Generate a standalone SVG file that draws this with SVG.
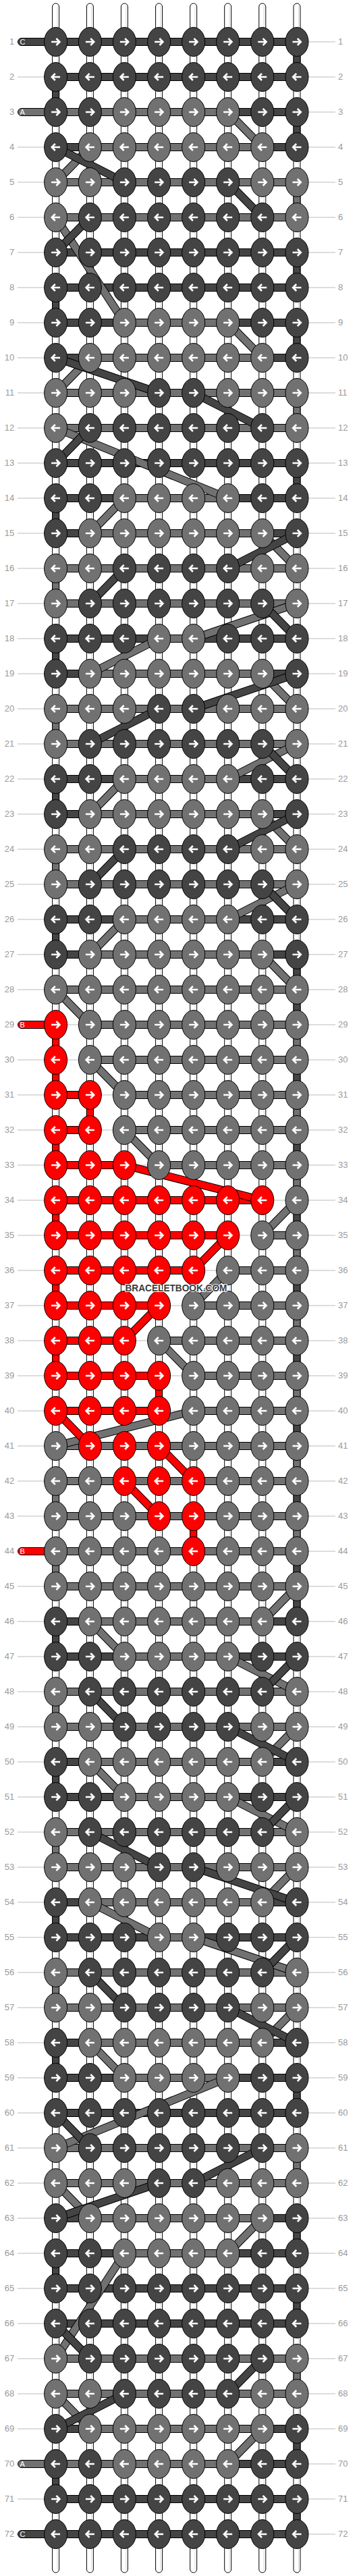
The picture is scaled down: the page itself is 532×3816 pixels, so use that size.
<svg xmlns="http://www.w3.org/2000/svg" width="532" height="3816" viewBox="0 0 532 3816">
<style>
.gl{stroke:#bbb;stroke-width:1;fill:none}
.n{font-family:"Liberation Sans",Arial,sans-serif;font-size:13px;fill:#9a9a9a}
.nl{text-anchor:end}
.st{fill:#fff;stroke:#000;stroke-width:1}
.sl{stroke:#d6d6d6;stroke-width:1}
.s rect{stroke:#000;stroke-width:1}
.D{fill:#444}
.G{fill:#717171}
.R{fill:#f00}
.kD{fill:#444;stroke:#000;stroke-width:1}
.kG{fill:#717171;stroke:#000;stroke-width:1}
.kR{fill:#f00;stroke:#000;stroke-width:1}
.ar{fill:none;stroke:#fff;stroke-width:2.6}
.lb{font-family:"Liberation Sans",Arial,sans-serif;font-size:11px;fill:#fff}
.dg{fill:none;stroke-linecap:butt}
.wm{font-family:"Liberation Sans",Arial,sans-serif;font-weight:bold;font-size:14.5px;fill:#3c3c3c;stroke:#fff;stroke-width:2;paint-order:stroke;text-anchor:middle}
</style>
<defs>
<path id="aR" class="ar" d="M-6.5,0H5M0.8,-5L5.8,0L0.8,5"/>
<path id="aL" class="ar" d="M6.5,0H-5M-0.8,-5L-5.8,0L-0.8,5"/>
<g id="Dr"><ellipse rx="17" ry="21.5" class="kD"/><use href="#aR"/></g>
<g id="Gr"><ellipse rx="17" ry="21.5" class="kG"/><use href="#aR"/></g>
<g id="Rr"><ellipse rx="17" ry="21.5" class="kR"/><use href="#aR"/></g>
<g id="Dl"><ellipse rx="17" ry="21.5" class="kD"/><use href="#aL"/></g>
<g id="Gl"><ellipse rx="17" ry="21.5" class="kG"/><use href="#aL"/></g>
<g id="Rl"><ellipse rx="17" ry="21.5" class="kR"/><use href="#aL"/></g>
<path id="dgG" d="M337.7,166L388.8,218M133.4,218L82.6,270M82.6,322L184.4,478M337.7,478L388.8,530M133.4,530L82.6,582M82.6,634L337.7,738M184.4,738L133.4,790M388.8,790L440,842M440,894L286.7,946M235.6,946L133.4,998M388.8,998L440,1050M440,1102L337.7,1154M184.4,1154L133.4,1206M388.8,1206L440,1258M440,1310L337.7,1362M184.4,1362L133.4,1414M388.8,1414L440,1466M82.6,1466L133.4,1518M133.4,1570L184.4,1622M184.4,1674L235.6,1726M440,1778L388.8,1830M337.7,1882L286.7,1934M235.6,1986L286.7,2038M286.7,2090L82.6,2142M440,2350L388.8,2402M133.4,2402L184.4,2454M337.7,2454L440,2506M440,2558L388.8,2610M133.4,2610L184.4,2662M337.7,2662L440,2714M440,2766L388.8,2818M133.4,2818L235.6,2870M286.7,2870L440,2922M440,2974L388.8,3026M133.4,3026L184.4,3078M337.7,3078L82.6,3182M82.6,3234L133.4,3286M388.8,3286L337.7,3338M184.4,3338L82.6,3494M82.6,3546L133.4,3598M388.8,3598L337.7,3650"/>
<path id="dgD" d="M82.6,218L184.4,270M337.7,270L388.8,322M133.4,322L82.6,374M82.6,530L235.6,582M286.7,582L388.8,634M133.4,634L82.6,686M440,790L337.7,842M184.4,842L133.4,894M388.8,894L440,946M440,998L286.7,1050M235.6,1050L133.4,1102M388.8,1102L440,1154M440,1206L337.7,1258M184.4,1258L133.4,1310M388.8,1310L440,1362M440,2454L388.8,2506M133.4,2506L184.4,2558M337.7,2558L440,2610M440,2662L388.8,2714M133.4,2714L235.6,2766M286.7,2766L440,2818M440,2870L388.8,2922M133.4,2922L184.4,2974M337.7,2974L440,3026M82.6,3130L133.4,3182M388.8,3182L286.7,3234M235.6,3234L82.6,3286M82.6,3442L133.4,3494M388.8,3494L337.7,3546M184.4,3546L82.6,3598"/>
<path id="dgR" d="M184.4,1726L388.8,1778M337.7,1830L286.7,1882M235.6,1934L184.4,1986M82.6,2090L133.4,2142M235.6,2142L286.7,2194M184.4,2194L235.6,2246"/>
</defs>
<rect width="532" height="3816" fill="#fff"/>
<path class="gl" d="M26,62H497M26,114H497M26,166H497M26,218H497M26,270H497M26,322H497M26,374H497M26,426H497M26,478H497M26,530H497M26,582H497M26,634H497M26,686H497M26,738H497M26,790H497M26,842H497M26,894H497M26,946H497M26,998H497M26,1050H497M26,1102H497M26,1154H497M26,1206H497M26,1258H497M26,1310H497M26,1362H497M26,1414H497M26,1466H497M26,1518H497M26,1570H497M26,1622H497M26,1674H497M26,1726H497M26,1778H497M26,1830H497M26,1882H497M26,1934H497M26,1986H497M26,2038H497M26,2090H497M26,2142H497M26,2194H497M26,2246H497M26,2298H497M26,2350H497M26,2402H497M26,2454H497M26,2506H497M26,2558H497M26,2610H497M26,2662H497M26,2714H497M26,2766H497M26,2818H497M26,2870H497M26,2922H497M26,2974H497M26,3026H497M26,3078H497M26,3130H497M26,3182H497M26,3234H497M26,3286H497M26,3338H497M26,3390H497M26,3442H497M26,3494H497M26,3546H497M26,3598H497M26,3650H497M26,3702H497M26,3754H497"/>
<g class="n nl">
<text x="21.3" y="66">1</text><text x="21.3" y="118">2</text><text x="21.3" y="170">3</text><text x="21.3" y="222">4</text><text x="21.3" y="274">5</text><text x="21.3" y="326">6</text><text x="21.3" y="378">7</text><text x="21.3" y="430">8</text><text x="21.3" y="482">9</text><text x="21.3" y="534">10</text><text x="21.3" y="586">11</text><text x="21.3" y="638">12</text><text x="21.3" y="690">13</text><text x="21.3" y="742">14</text><text x="21.3" y="794">15</text><text x="21.3" y="846">16</text><text x="21.3" y="898">17</text><text x="21.3" y="950">18</text><text x="21.3" y="1002">19</text><text x="21.3" y="1054">20</text><text x="21.3" y="1106">21</text><text x="21.3" y="1158">22</text><text x="21.3" y="1210">23</text><text x="21.3" y="1262">24</text><text x="21.3" y="1314">25</text><text x="21.3" y="1366">26</text><text x="21.3" y="1418">27</text><text x="21.3" y="1470">28</text><text x="21.3" y="1522">29</text><text x="21.3" y="1574">30</text><text x="21.3" y="1626">31</text><text x="21.3" y="1678">32</text><text x="21.3" y="1730">33</text><text x="21.3" y="1782">34</text><text x="21.3" y="1834">35</text><text x="21.3" y="1886">36</text><text x="21.3" y="1938">37</text><text x="21.3" y="1990">38</text><text x="21.3" y="2042">39</text><text x="21.3" y="2094">40</text><text x="21.3" y="2146">41</text><text x="21.3" y="2198">42</text><text x="21.3" y="2250">43</text><text x="21.3" y="2302">44</text><text x="21.3" y="2354">45</text><text x="21.3" y="2406">46</text><text x="21.3" y="2458">47</text><text x="21.3" y="2510">48</text><text x="21.3" y="2562">49</text><text x="21.3" y="2614">50</text><text x="21.3" y="2666">51</text><text x="21.3" y="2718">52</text><text x="21.3" y="2770">53</text><text x="21.3" y="2822">54</text><text x="21.3" y="2874">55</text><text x="21.3" y="2926">56</text><text x="21.3" y="2978">57</text><text x="21.3" y="3030">58</text><text x="21.3" y="3082">59</text><text x="21.3" y="3134">60</text><text x="21.3" y="3186">61</text><text x="21.3" y="3238">62</text><text x="21.3" y="3290">63</text><text x="21.3" y="3342">64</text><text x="21.3" y="3394">65</text><text x="21.3" y="3446">66</text><text x="21.3" y="3498">67</text><text x="21.3" y="3550">68</text><text x="21.3" y="3602">69</text><text x="21.3" y="3654">70</text><text x="21.3" y="3706">71</text><text x="21.3" y="3758">72</text>
</g>
<g class="n">
<text x="501" y="66">1</text><text x="501" y="118">2</text><text x="501" y="170">3</text><text x="501" y="222">4</text><text x="501" y="274">5</text><text x="501" y="326">6</text><text x="501" y="378">7</text><text x="501" y="430">8</text><text x="501" y="482">9</text><text x="501" y="534">10</text><text x="501" y="586">11</text><text x="501" y="638">12</text><text x="501" y="690">13</text><text x="501" y="742">14</text><text x="501" y="794">15</text><text x="501" y="846">16</text><text x="501" y="898">17</text><text x="501" y="950">18</text><text x="501" y="1002">19</text><text x="501" y="1054">20</text><text x="501" y="1106">21</text><text x="501" y="1158">22</text><text x="501" y="1210">23</text><text x="501" y="1262">24</text><text x="501" y="1314">25</text><text x="501" y="1366">26</text><text x="501" y="1418">27</text><text x="501" y="1470">28</text><text x="501" y="1522">29</text><text x="501" y="1574">30</text><text x="501" y="1626">31</text><text x="501" y="1678">32</text><text x="501" y="1730">33</text><text x="501" y="1782">34</text><text x="501" y="1834">35</text><text x="501" y="1886">36</text><text x="501" y="1938">37</text><text x="501" y="1990">38</text><text x="501" y="2042">39</text><text x="501" y="2094">40</text><text x="501" y="2146">41</text><text x="501" y="2198">42</text><text x="501" y="2250">43</text><text x="501" y="2302">44</text><text x="501" y="2354">45</text><text x="501" y="2406">46</text><text x="501" y="2458">47</text><text x="501" y="2510">48</text><text x="501" y="2562">49</text><text x="501" y="2614">50</text><text x="501" y="2666">51</text><text x="501" y="2718">52</text><text x="501" y="2770">53</text><text x="501" y="2822">54</text><text x="501" y="2874">55</text><text x="501" y="2926">56</text><text x="501" y="2978">57</text><text x="501" y="3030">58</text><text x="501" y="3082">59</text><text x="501" y="3134">60</text><text x="501" y="3186">61</text><text x="501" y="3238">62</text><text x="501" y="3290">63</text><text x="501" y="3342">64</text><text x="501" y="3394">65</text><text x="501" y="3446">66</text><text x="501" y="3498">67</text><text x="501" y="3550">68</text><text x="501" y="3602">69</text><text x="501" y="3654">70</text><text x="501" y="3706">71</text><text x="501" y="3758">72</text>
</g>
<g id="strings">
<rect class="st" x="77.6" y="5" width="10" height="3806" rx="5"/>
<rect class="st" x="128.4" y="5" width="10" height="3806" rx="5"/>
<rect class="st" x="179.4" y="5" width="10" height="3806" rx="5"/>
<rect class="st" x="230.6" y="5" width="10" height="3806" rx="5"/>
<rect class="st" x="281.7" y="5" width="10" height="3806" rx="5"/>
<rect class="st" x="332.7" y="5" width="10" height="3806" rx="5"/>
<rect class="st" x="383.8" y="5" width="10" height="3806" rx="5"/>
<rect class="st" x="435" y="5" width="10" height="3806" rx="5"/>
<path class="sl" d="M85,9V3807M135.8,9V3807M186.8,9V3807M238,9V3807M289.1,9V3807M340.1,9V3807M391.2,9V3807M442.4,9V3807"/>
</g>
<g id="connectors">
<g class="s" id="segments">
<rect class="D" x="82.6" y="56.5" width="357.4" height="11"/>
<rect class="D" x="82.6" y="108.5" width="357.4" height="11"/>
<rect class="G" x="82.6" y="160.5" width="255.1" height="11"/><rect class="D" x="337.7" y="160.5" width="102.3" height="11"/>
<rect class="D" x="82.6" y="212.5" width="50.8" height="11"/><rect class="G" x="133.4" y="212.5" width="255.4" height="11"/><rect class="D" x="388.8" y="212.5" width="51.2" height="11"/>
<rect class="G" x="82.6" y="264.5" width="357.4" height="11"/>
<rect class="G" x="82.6" y="316.5" width="357.4" height="11"/>
<rect class="D" x="82.6" y="368.5" width="357.4" height="11"/>
<rect class="D" x="82.6" y="420.5" width="357.4" height="11"/>
<rect class="D" x="82.6" y="472.5" width="101.8" height="11"/><rect class="G" x="184.4" y="472.5" width="153.3" height="11"/><rect class="D" x="337.7" y="472.5" width="102.3" height="11"/>
<rect class="D" x="82.6" y="524.5" width="50.8" height="11"/><rect class="G" x="133.4" y="524.5" width="255.4" height="11"/><rect class="D" x="388.8" y="524.5" width="51.2" height="11"/>
<rect class="G" x="82.6" y="576.5" width="357.4" height="11"/>
<rect class="G" x="82.6" y="628.5" width="357.4" height="11"/>
<rect class="D" x="82.6" y="680.5" width="357.4" height="11"/>
<rect class="D" x="82.6" y="732.5" width="101.8" height="11"/><rect class="G" x="184.4" y="732.5" width="153.3" height="11"/><rect class="D" x="337.7" y="732.5" width="102.3" height="11"/>
<rect class="D" x="82.6" y="784.5" width="50.8" height="11"/><rect class="G" x="133.4" y="784.5" width="255.4" height="11"/><rect class="D" x="388.8" y="784.5" width="51.2" height="11"/>
<rect class="G" x="82.6" y="836.5" width="357.4" height="11"/>
<rect class="G" x="82.6" y="888.5" width="357.4" height="11"/>
<rect class="D" x="82.6" y="940.5" width="153" height="11"/><rect class="G" x="235.6" y="940.5" width="51.1" height="11"/><rect class="D" x="286.7" y="940.5" width="153.3" height="11"/>
<rect class="D" x="82.6" y="992.5" width="50.8" height="11"/><rect class="G" x="133.4" y="992.5" width="255.4" height="11"/><rect class="D" x="388.8" y="992.5" width="51.2" height="11"/>
<rect class="G" x="82.6" y="1044.5" width="357.4" height="11"/>
<rect class="G" x="82.6" y="1096.5" width="357.4" height="11"/>
<rect class="D" x="82.6" y="1148.5" width="101.8" height="11"/><rect class="G" x="184.4" y="1148.5" width="153.3" height="11"/><rect class="D" x="337.7" y="1148.5" width="102.3" height="11"/>
<rect class="D" x="82.6" y="1200.5" width="50.8" height="11"/><rect class="G" x="133.4" y="1200.5" width="255.4" height="11"/><rect class="D" x="388.8" y="1200.5" width="51.2" height="11"/>
<rect class="G" x="82.6" y="1252.5" width="357.4" height="11"/>
<rect class="G" x="82.6" y="1304.5" width="357.4" height="11"/>
<rect class="D" x="82.6" y="1356.5" width="101.8" height="11"/><rect class="G" x="184.4" y="1356.5" width="153.3" height="11"/><rect class="D" x="337.7" y="1356.5" width="102.3" height="11"/>
<rect class="D" x="82.6" y="1408.5" width="50.8" height="11"/><rect class="G" x="133.4" y="1408.5" width="255.4" height="11"/><rect class="D" x="388.8" y="1408.5" width="51.2" height="11"/>
<rect class="G" x="82.6" y="1460.5" width="357.4" height="11"/>
<rect class="G" x="133.4" y="1512.5" width="306.6" height="11"/>
<rect class="G" x="133.4" y="1564.5" width="306.6" height="11"/>
<rect class="R" x="82.6" y="1616.5" width="50.8" height="11"/><rect class="G" x="184.4" y="1616.5" width="255.6" height="11"/>
<rect class="R" x="82.6" y="1668.5" width="50.8" height="11"/><rect class="G" x="184.4" y="1668.5" width="255.6" height="11"/>
<rect class="R" x="82.6" y="1720.5" width="101.8" height="11"/><rect class="G" x="235.6" y="1720.5" width="204.4" height="11"/>
<rect class="R" x="82.6" y="1772.5" width="306.2" height="11"/>
<rect class="R" x="82.6" y="1824.5" width="255.1" height="11"/><rect class="G" x="388.8" y="1824.5" width="51.2" height="11"/>
<rect class="R" x="82.6" y="1876.5" width="204.1" height="11"/><rect class="G" x="337.7" y="1876.5" width="102.3" height="11"/>
<rect class="R" x="82.6" y="1928.5" width="153" height="11"/><rect class="G" x="286.7" y="1928.5" width="153.3" height="11"/>
<rect class="R" x="82.6" y="1980.5" width="101.8" height="11"/><rect class="G" x="235.6" y="1980.5" width="204.4" height="11"/>
<rect class="R" x="82.6" y="2032.5" width="153" height="11"/><rect class="G" x="286.7" y="2032.5" width="153.3" height="11"/>
<rect class="R" x="82.6" y="2084.5" width="153" height="11"/><rect class="G" x="286.7" y="2084.5" width="153.3" height="11"/>
<rect class="G" x="82.6" y="2136.5" width="357.4" height="11"/>
<rect class="G" x="82.6" y="2188.5" width="357.4" height="11"/>
<rect class="G" x="82.6" y="2240.5" width="357.4" height="11"/>
<rect class="G" x="82.6" y="2292.5" width="357.4" height="11"/>
<rect class="G" x="82.6" y="2344.5" width="357.4" height="11"/>
<rect class="D" x="82.6" y="2396.5" width="50.8" height="11"/><rect class="G" x="133.4" y="2396.5" width="255.4" height="11"/><rect class="D" x="388.8" y="2396.5" width="51.2" height="11"/>
<rect class="D" x="82.6" y="2448.5" width="101.8" height="11"/><rect class="G" x="184.4" y="2448.5" width="153.3" height="11"/><rect class="D" x="337.7" y="2448.5" width="102.3" height="11"/>
<rect class="G" x="82.6" y="2500.5" width="357.4" height="11"/>
<rect class="G" x="82.6" y="2552.5" width="357.4" height="11"/>
<rect class="D" x="82.6" y="2604.5" width="50.8" height="11"/><rect class="G" x="133.4" y="2604.5" width="255.4" height="11"/><rect class="D" x="388.8" y="2604.5" width="51.2" height="11"/>
<rect class="D" x="82.6" y="2656.5" width="101.8" height="11"/><rect class="G" x="184.4" y="2656.5" width="153.3" height="11"/><rect class="D" x="337.7" y="2656.5" width="102.3" height="11"/>
<rect class="G" x="82.6" y="2708.5" width="357.4" height="11"/>
<rect class="G" x="82.6" y="2760.5" width="357.4" height="11"/>
<rect class="D" x="82.6" y="2812.5" width="50.8" height="11"/><rect class="G" x="133.4" y="2812.5" width="255.4" height="11"/><rect class="D" x="388.8" y="2812.5" width="51.2" height="11"/>
<rect class="D" x="82.6" y="2864.5" width="153" height="11"/><rect class="G" x="235.6" y="2864.5" width="51.1" height="11"/><rect class="D" x="286.7" y="2864.5" width="153.3" height="11"/>
<rect class="G" x="82.6" y="2916.5" width="357.4" height="11"/>
<rect class="G" x="82.6" y="2968.5" width="357.4" height="11"/>
<rect class="D" x="82.6" y="3020.5" width="50.8" height="11"/><rect class="G" x="133.4" y="3020.5" width="255.4" height="11"/><rect class="D" x="388.8" y="3020.5" width="51.2" height="11"/>
<rect class="D" x="82.6" y="3072.5" width="101.8" height="11"/><rect class="G" x="184.4" y="3072.5" width="153.3" height="11"/><rect class="D" x="337.7" y="3072.5" width="102.3" height="11"/>
<rect class="D" x="82.6" y="3124.5" width="357.4" height="11"/>
<rect class="G" x="82.6" y="3176.5" width="357.4" height="11"/>
<rect class="G" x="82.6" y="3228.5" width="357.4" height="11"/>
<rect class="D" x="82.6" y="3280.5" width="50.8" height="11"/><rect class="G" x="133.4" y="3280.5" width="255.4" height="11"/><rect class="D" x="388.8" y="3280.5" width="51.2" height="11"/>
<rect class="D" x="82.6" y="3332.5" width="101.8" height="11"/><rect class="G" x="184.4" y="3332.5" width="153.3" height="11"/><rect class="D" x="337.7" y="3332.5" width="102.3" height="11"/>
<rect class="D" x="82.6" y="3384.5" width="357.4" height="11"/>
<rect class="D" x="82.6" y="3436.5" width="357.4" height="11"/>
<rect class="G" x="82.6" y="3488.5" width="357.4" height="11"/>
<rect class="G" x="82.6" y="3540.5" width="357.4" height="11"/>
<rect class="D" x="82.6" y="3592.5" width="50.8" height="11"/><rect class="G" x="133.4" y="3592.5" width="255.4" height="11"/><rect class="D" x="388.8" y="3592.5" width="51.2" height="11"/>
<rect class="G" x="82.6" y="3644.5" width="255.1" height="11"/><rect class="D" x="337.7" y="3644.5" width="102.3" height="11"/>
<rect class="D" x="82.6" y="3696.5" width="357.4" height="11"/>
<rect class="D" x="82.6" y="3748.5" width="357.4" height="11"/>
</g>
<g class="s" id="verticals">
<rect class="D" x="435" y="62" width="10" height="52"/><rect class="D" x="435" y="166" width="10" height="52"/><rect class="G" x="435" y="270" width="10" height="52"/><rect class="D" x="435" y="374" width="10" height="52"/><rect class="D" x="435" y="478" width="10" height="52"/><rect class="G" x="435" y="582" width="10" height="52"/><rect class="D" x="435" y="686" width="10" height="52"/>
<rect class="D" x="435" y="1414" width="10" height="52"/><rect class="D" x="435" y="1466" width="10" height="52"/><rect class="G" x="435" y="1518" width="10" height="52"/><rect class="D" x="435" y="1570" width="10" height="52"/><rect class="G" x="435" y="1622" width="10" height="52"/><rect class="D" x="435" y="1674" width="10" height="52"/><rect class="G" x="435" y="1726" width="10" height="52"/><rect class="D" x="435" y="1778" width="10" height="52"/><rect class="G" x="435" y="1830" width="10" height="52"/><rect class="D" x="435" y="1882" width="10" height="52"/><rect class="G" x="435" y="1934" width="10" height="52"/><rect class="D" x="435" y="1986" width="10" height="52"/><rect class="G" x="435" y="2038" width="10" height="52"/><rect class="D" x="435" y="2090" width="10" height="52"/><rect class="G" x="435" y="2142" width="10" height="52"/><rect class="D" x="435" y="2194" width="10" height="52"/><rect class="G" x="435" y="2246" width="10" height="52"/><rect class="D" x="435" y="2298" width="10" height="52"/><rect class="D" x="435" y="2350" width="10" height="52"/>
<rect class="D" x="435" y="3078" width="10" height="52"/><rect class="G" x="435" y="3182" width="10" height="52"/><rect class="D" x="435" y="3286" width="10" height="52"/><rect class="D" x="435" y="3390" width="10" height="52"/><rect class="G" x="435" y="3494" width="10" height="52"/><rect class="D" x="435" y="3598" width="10" height="52"/><rect class="D" x="435" y="3702" width="10" height="52"/>
<rect class="D" x="77.6" y="114" width="10" height="52"/><rect class="D" x="77.6" y="426" width="10" height="52"/><rect class="D" x="77.6" y="738" width="10" height="52"/><rect class="G" x="77.6" y="842" width="10" height="52"/><rect class="D" x="77.6" y="946" width="10" height="52"/><rect class="G" x="77.6" y="1050" width="10" height="52"/><rect class="D" x="77.6" y="1154" width="10" height="52"/><rect class="G" x="77.6" y="1258" width="10" height="52"/><rect class="D" x="77.6" y="1362" width="10" height="52"/>
<rect class="R" x="77.6" y="1518" width="10" height="52"/><rect class="R" x="77.6" y="1570" width="10" height="52"/><rect class="R" x="77.6" y="1674" width="10" height="52"/><rect class="R" x="77.6" y="1778" width="10" height="52"/><rect class="R" x="77.6" y="1882" width="10" height="52"/><rect class="R" x="77.6" y="1986" width="10" height="52"/>
<rect class="G" x="77.6" y="2194" width="10" height="52"/><rect class="G" x="77.6" y="2298" width="10" height="52"/><rect class="D" x="77.6" y="2402" width="10" height="52"/><rect class="G" x="77.6" y="2506" width="10" height="52"/><rect class="D" x="77.6" y="2610" width="10" height="52"/><rect class="G" x="77.6" y="2714" width="10" height="52"/><rect class="D" x="77.6" y="2818" width="10" height="52"/><rect class="G" x="77.6" y="2922" width="10" height="52"/><rect class="D" x="77.6" y="3026" width="10" height="52"/><rect class="D" x="77.6" y="3338" width="10" height="52"/><rect class="D" x="77.6" y="3650" width="10" height="52"/>
<rect class="R" x="128.4" y="1622" width="10" height="52"/><rect class="R" x="230.6" y="2038" width="10" height="52"/><rect class="R" x="281.7" y="2246" width="10" height="52"/>
</g>
<g id="labels" class="s">
<rect class="D" x="26.5" y="56.5" width="60" height="11" rx="5.5"/>
<rect class="G" x="26.5" y="160.5" width="60" height="11" rx="5.5"/>
<rect class="R" x="26.5" y="1512.5" width="60" height="11" rx="5.5"/>
<rect class="R" x="26.5" y="2292.5" width="60" height="11" rx="5.5"/>
<rect class="G" x="26.5" y="3644.5" width="60" height="11" rx="5.5"/>
<rect class="D" x="26.5" y="3748.5" width="60" height="11" rx="5.5"/>
</g>
<g class="lb">
<text x="29.5" y="66">C</text><text x="29.5" y="170">A</text><text x="29.5" y="1522">B</text><text x="29.5" y="2302">B</text><text x="29.5" y="3654">A</text><text x="29.5" y="3758">C</text>
</g>
<g id="diagonals" class="dg">
<use href="#dgG" stroke="#000" stroke-width="12"/><use href="#dgG" stroke="#717171" stroke-width="10"/>
<use href="#dgD" stroke="#000" stroke-width="12"/><use href="#dgD" stroke="#444" stroke-width="10"/>
<use href="#dgR" stroke="#000" stroke-width="12"/><use href="#dgR" stroke="#f00" stroke-width="10"/>
</g>
</g>
<g id="knots">
<g id="row1" transform="translate(0,62)"><use id="k1_1" href="#Dr" x="82.6"/><use id="k1_2" href="#Dr" x="133.4"/><use id="k1_3" href="#Dr" x="184.4"/><use id="k1_4" href="#Dr" x="235.6"/><use id="k1_5" href="#Dr" x="286.7"/><use id="k1_6" href="#Dr" x="337.7"/><use id="k1_7" href="#Dr" x="388.8"/><use id="k1_8" href="#Dr" x="440"/></g>
<g id="row2" transform="translate(0,114)"><use id="k2_1" href="#Dl" x="82.6"/><use id="k2_2" href="#Dl" x="133.4"/><use id="k2_3" href="#Dl" x="184.4"/><use id="k2_4" href="#Dl" x="235.6"/><use id="k2_5" href="#Dl" x="286.7"/><use id="k2_6" href="#Dl" x="337.7"/><use id="k2_7" href="#Dl" x="388.8"/><use id="k2_8" href="#Dl" x="440"/></g>
<g id="row3" transform="translate(0,166)"><use id="k3_1" href="#Dr" x="82.6"/><use id="k3_2" href="#Dr" x="133.4"/><use id="k3_3" href="#Gr" x="184.4"/><use id="k3_4" href="#Gr" x="235.6"/><use id="k3_5" href="#Gr" x="286.7"/><use id="k3_6" href="#Gr" x="337.7"/><use id="k3_7" href="#Dr" x="388.8"/><use id="k3_8" href="#Dr" x="440"/></g>
<g id="row4" transform="translate(0,218)"><use id="k4_1" href="#Dl" x="82.6"/><use id="k4_2" href="#Gl" x="133.4"/><use id="k4_3" href="#Gl" x="184.4"/><use id="k4_4" href="#Gl" x="235.6"/><use id="k4_5" href="#Gl" x="286.7"/><use id="k4_6" href="#Gl" x="337.7"/><use id="k4_7" href="#Gl" x="388.8"/><use id="k4_8" href="#Dl" x="440"/></g>
<g id="row5" transform="translate(0,270)"><use id="k5_1" href="#Gr" x="82.6"/><use id="k5_2" href="#Gr" x="133.4"/><use id="k5_3" href="#Dr" x="184.4"/><use id="k5_4" href="#Dr" x="235.6"/><use id="k5_5" href="#Dr" x="286.7"/><use id="k5_6" href="#Dr" x="337.7"/><use id="k5_7" href="#Gr" x="388.8"/><use id="k5_8" href="#Gr" x="440"/></g>
<g id="row6" transform="translate(0,322)"><use id="k6_1" href="#Gl" x="82.6"/><use id="k6_2" href="#Dl" x="133.4"/><use id="k6_3" href="#Dl" x="184.4"/><use id="k6_4" href="#Dl" x="235.6"/><use id="k6_5" href="#Dl" x="286.7"/><use id="k6_6" href="#Dl" x="337.7"/><use id="k6_7" href="#Dl" x="388.8"/><use id="k6_8" href="#Gl" x="440"/></g>
<g id="row7" transform="translate(0,374)"><use id="k7_1" href="#Dr" x="82.6"/><use id="k7_2" href="#Dr" x="133.4"/><use id="k7_3" href="#Dr" x="184.4"/><use id="k7_4" href="#Dr" x="235.6"/><use id="k7_5" href="#Dr" x="286.7"/><use id="k7_6" href="#Dr" x="337.7"/><use id="k7_7" href="#Dr" x="388.8"/><use id="k7_8" href="#Dr" x="440"/></g>
<g id="row8" transform="translate(0,426)"><use id="k8_1" href="#Dl" x="82.6"/><use id="k8_2" href="#Dl" x="133.4"/><use id="k8_3" href="#Dl" x="184.4"/><use id="k8_4" href="#Dl" x="235.6"/><use id="k8_5" href="#Dl" x="286.7"/><use id="k8_6" href="#Dl" x="337.7"/><use id="k8_7" href="#Dl" x="388.8"/><use id="k8_8" href="#Dl" x="440"/></g>
<g id="row9" transform="translate(0,478)"><use id="k9_1" href="#Dr" x="82.6"/><use id="k9_2" href="#Dr" x="133.4"/><use id="k9_3" href="#Gr" x="184.4"/><use id="k9_4" href="#Gr" x="235.6"/><use id="k9_5" href="#Gr" x="286.7"/><use id="k9_6" href="#Gr" x="337.7"/><use id="k9_7" href="#Dr" x="388.8"/><use id="k9_8" href="#Dr" x="440"/></g>
<g id="row10" transform="translate(0,530)"><use id="k10_1" href="#Dl" x="82.6"/><use id="k10_2" href="#Gl" x="133.4"/><use id="k10_3" href="#Gl" x="184.4"/><use id="k10_4" href="#Gl" x="235.6"/><use id="k10_5" href="#Gl" x="286.7"/><use id="k10_6" href="#Gl" x="337.7"/><use id="k10_7" href="#Gl" x="388.8"/><use id="k10_8" href="#Dl" x="440"/></g>
<g id="row11" transform="translate(0,582)"><use id="k11_1" href="#Gr" x="82.6"/><use id="k11_2" href="#Gr" x="133.4"/><use id="k11_3" href="#Gr" x="184.4"/><use id="k11_4" href="#Dr" x="235.6"/><use id="k11_5" href="#Dr" x="286.7"/><use id="k11_6" href="#Gr" x="337.7"/><use id="k11_7" href="#Gr" x="388.8"/><use id="k11_8" href="#Gr" x="440"/></g>
<g id="row12" transform="translate(0,634)"><use id="k12_1" href="#Gl" x="82.6"/><use id="k12_2" href="#Dl" x="133.4"/><use id="k12_3" href="#Dl" x="184.4"/><use id="k12_4" href="#Dl" x="235.6"/><use id="k12_5" href="#Dl" x="286.7"/><use id="k12_6" href="#Dl" x="337.7"/><use id="k12_7" href="#Dl" x="388.8"/><use id="k12_8" href="#Gl" x="440"/></g>
<g id="row13" transform="translate(0,686)"><use id="k13_1" href="#Dr" x="82.6"/><use id="k13_2" href="#Dr" x="133.4"/><use id="k13_3" href="#Dr" x="184.4"/><use id="k13_4" href="#Dr" x="235.6"/><use id="k13_5" href="#Dr" x="286.7"/><use id="k13_6" href="#Dr" x="337.7"/><use id="k13_7" href="#Dr" x="388.8"/><use id="k13_8" href="#Dr" x="440"/></g>
<g id="row14" transform="translate(0,738)"><use id="k14_1" href="#Dl" x="82.6"/><use id="k14_2" href="#Dl" x="133.4"/><use id="k14_3" href="#Gl" x="184.4"/><use id="k14_4" href="#Gl" x="235.6"/><use id="k14_5" href="#Gl" x="286.7"/><use id="k14_6" href="#Gl" x="337.7"/><use id="k14_7" href="#Dl" x="388.8"/><use id="k14_8" href="#Dl" x="440"/></g>
<g id="row15" transform="translate(0,790)"><use id="k15_1" href="#Dr" x="82.6"/><use id="k15_2" href="#Gr" x="133.4"/><use id="k15_3" href="#Gr" x="184.4"/><use id="k15_4" href="#Gr" x="235.6"/><use id="k15_5" href="#Gr" x="286.7"/><use id="k15_6" href="#Gr" x="337.7"/><use id="k15_7" href="#Gr" x="388.8"/><use id="k15_8" href="#Dr" x="440"/></g>
<g id="row16" transform="translate(0,842)"><use id="k16_1" href="#Gl" x="82.6"/><use id="k16_2" href="#Gl" x="133.4"/><use id="k16_3" href="#Dl" x="184.4"/><use id="k16_4" href="#Dl" x="235.6"/><use id="k16_5" href="#Dl" x="286.7"/><use id="k16_6" href="#Dl" x="337.7"/><use id="k16_7" href="#Gl" x="388.8"/><use id="k16_8" href="#Gl" x="440"/></g>
<g id="row17" transform="translate(0,894)"><use id="k17_1" href="#Gr" x="82.6"/><use id="k17_2" href="#Dr" x="133.4"/><use id="k17_3" href="#Dr" x="184.4"/><use id="k17_4" href="#Dr" x="235.6"/><use id="k17_5" href="#Dr" x="286.7"/><use id="k17_6" href="#Dr" x="337.7"/><use id="k17_7" href="#Dr" x="388.8"/><use id="k17_8" href="#Gr" x="440"/></g>
<g id="row18" transform="translate(0,946)"><use id="k18_1" href="#Dl" x="82.6"/><use id="k18_2" href="#Dl" x="133.4"/><use id="k18_3" href="#Dl" x="184.4"/><use id="k18_4" href="#Gl" x="235.6"/><use id="k18_5" href="#Gl" x="286.7"/><use id="k18_6" href="#Dl" x="337.7"/><use id="k18_7" href="#Dl" x="388.8"/><use id="k18_8" href="#Dl" x="440"/></g>
<g id="row19" transform="translate(0,998)"><use id="k19_1" href="#Dr" x="82.6"/><use id="k19_2" href="#Gr" x="133.4"/><use id="k19_3" href="#Gr" x="184.4"/><use id="k19_4" href="#Gr" x="235.6"/><use id="k19_5" href="#Gr" x="286.7"/><use id="k19_6" href="#Gr" x="337.7"/><use id="k19_7" href="#Gr" x="388.8"/><use id="k19_8" href="#Dr" x="440"/></g>
<g id="row20" transform="translate(0,1050)"><use id="k20_1" href="#Gl" x="82.6"/><use id="k20_2" href="#Gl" x="133.4"/><use id="k20_3" href="#Gl" x="184.4"/><use id="k20_4" href="#Dl" x="235.6"/><use id="k20_5" href="#Dl" x="286.7"/><use id="k20_6" href="#Gl" x="337.7"/><use id="k20_7" href="#Gl" x="388.8"/><use id="k20_8" href="#Gl" x="440"/></g>
<g id="row21" transform="translate(0,1102)"><use id="k21_1" href="#Gr" x="82.6"/><use id="k21_2" href="#Dr" x="133.4"/><use id="k21_3" href="#Dr" x="184.4"/><use id="k21_4" href="#Dr" x="235.6"/><use id="k21_5" href="#Dr" x="286.7"/><use id="k21_6" href="#Dr" x="337.7"/><use id="k21_7" href="#Dr" x="388.8"/><use id="k21_8" href="#Gr" x="440"/></g>
<g id="row22" transform="translate(0,1154)"><use id="k22_1" href="#Dl" x="82.6"/><use id="k22_2" href="#Dl" x="133.4"/><use id="k22_3" href="#Gl" x="184.4"/><use id="k22_4" href="#Gl" x="235.6"/><use id="k22_5" href="#Gl" x="286.7"/><use id="k22_6" href="#Gl" x="337.7"/><use id="k22_7" href="#Dl" x="388.8"/><use id="k22_8" href="#Dl" x="440"/></g>
<g id="row23" transform="translate(0,1206)"><use id="k23_1" href="#Dr" x="82.6"/><use id="k23_2" href="#Gr" x="133.4"/><use id="k23_3" href="#Gr" x="184.4"/><use id="k23_4" href="#Gr" x="235.6"/><use id="k23_5" href="#Gr" x="286.7"/><use id="k23_6" href="#Gr" x="337.7"/><use id="k23_7" href="#Gr" x="388.8"/><use id="k23_8" href="#Dr" x="440"/></g>
<g id="row24" transform="translate(0,1258)"><use id="k24_1" href="#Gl" x="82.6"/><use id="k24_2" href="#Gl" x="133.4"/><use id="k24_3" href="#Dl" x="184.4"/><use id="k24_4" href="#Dl" x="235.6"/><use id="k24_5" href="#Dl" x="286.7"/><use id="k24_6" href="#Dl" x="337.7"/><use id="k24_7" href="#Gl" x="388.8"/><use id="k24_8" href="#Gl" x="440"/></g>
<g id="row25" transform="translate(0,1310)"><use id="k25_1" href="#Gr" x="82.6"/><use id="k25_2" href="#Dr" x="133.4"/><use id="k25_3" href="#Dr" x="184.4"/><use id="k25_4" href="#Dr" x="235.6"/><use id="k25_5" href="#Dr" x="286.7"/><use id="k25_6" href="#Dr" x="337.7"/><use id="k25_7" href="#Dr" x="388.8"/><use id="k25_8" href="#Gr" x="440"/></g>
<g id="row26" transform="translate(0,1362)"><use id="k26_1" href="#Dl" x="82.6"/><use id="k26_2" href="#Dl" x="133.4"/><use id="k26_3" href="#Gl" x="184.4"/><use id="k26_4" href="#Gl" x="235.6"/><use id="k26_5" href="#Gl" x="286.7"/><use id="k26_6" href="#Gl" x="337.7"/><use id="k26_7" href="#Dl" x="388.8"/><use id="k26_8" href="#Dl" x="440"/></g>
<g id="row27" transform="translate(0,1414)"><use id="k27_1" href="#Dr" x="82.6"/><use id="k27_2" href="#Gr" x="133.4"/><use id="k27_3" href="#Gr" x="184.4"/><use id="k27_4" href="#Gr" x="235.6"/><use id="k27_5" href="#Gr" x="286.7"/><use id="k27_6" href="#Gr" x="337.7"/><use id="k27_7" href="#Gr" x="388.8"/><use id="k27_8" href="#Dr" x="440"/></g>
<g id="row28" transform="translate(0,1466)"><use id="k28_1" href="#Gl" x="82.6"/><use id="k28_2" href="#Gl" x="133.4"/><use id="k28_3" href="#Gl" x="184.4"/><use id="k28_4" href="#Gl" x="235.6"/><use id="k28_5" href="#Gl" x="286.7"/><use id="k28_6" href="#Gl" x="337.7"/><use id="k28_7" href="#Gl" x="388.8"/><use id="k28_8" href="#Gl" x="440"/></g>
<g id="row29" transform="translate(0,1518)"><use id="k29_1" href="#Rr" x="82.6"/><use id="k29_2" href="#Gr" x="133.4"/><use id="k29_3" href="#Gr" x="184.4"/><use id="k29_4" href="#Gr" x="235.6"/><use id="k29_5" href="#Gr" x="286.7"/><use id="k29_6" href="#Gr" x="337.7"/><use id="k29_7" href="#Gr" x="388.8"/><use id="k29_8" href="#Gr" x="440"/></g>
<g id="row30" transform="translate(0,1570)"><use id="k30_1" href="#Rl" x="82.6"/><use id="k30_2" href="#Gl" x="133.4"/><use id="k30_3" href="#Gl" x="184.4"/><use id="k30_4" href="#Gl" x="235.6"/><use id="k30_5" href="#Gl" x="286.7"/><use id="k30_6" href="#Gl" x="337.7"/><use id="k30_7" href="#Gl" x="388.8"/><use id="k30_8" href="#Gl" x="440"/></g>
<g id="row31" transform="translate(0,1622)"><use id="k31_1" href="#Rr" x="82.6"/><use id="k31_2" href="#Rr" x="133.4"/><use id="k31_3" href="#Gr" x="184.4"/><use id="k31_4" href="#Gr" x="235.6"/><use id="k31_5" href="#Gr" x="286.7"/><use id="k31_6" href="#Gr" x="337.7"/><use id="k31_7" href="#Gr" x="388.8"/><use id="k31_8" href="#Gr" x="440"/></g>
<g id="row32" transform="translate(0,1674)"><use id="k32_1" href="#Rl" x="82.6"/><use id="k32_2" href="#Rl" x="133.4"/><use id="k32_3" href="#Gl" x="184.4"/><use id="k32_4" href="#Gl" x="235.6"/><use id="k32_5" href="#Gl" x="286.7"/><use id="k32_6" href="#Gl" x="337.7"/><use id="k32_7" href="#Gl" x="388.8"/><use id="k32_8" href="#Gl" x="440"/></g>
<g id="row33" transform="translate(0,1726)"><use id="k33_1" href="#Rr" x="82.6"/><use id="k33_2" href="#Rr" x="133.4"/><use id="k33_3" href="#Rr" x="184.4"/><use id="k33_4" href="#Gr" x="235.6"/><use id="k33_5" href="#Gr" x="286.7"/><use id="k33_6" href="#Gr" x="337.7"/><use id="k33_7" href="#Gr" x="388.8"/><use id="k33_8" href="#Gr" x="440"/></g>
<g id="row34" transform="translate(0,1778)"><use id="k34_1" href="#Rl" x="82.6"/><use id="k34_2" href="#Rl" x="133.4"/><use id="k34_3" href="#Rl" x="184.4"/><use id="k34_4" href="#Rl" x="235.6"/><use id="k34_5" href="#Rl" x="286.7"/><use id="k34_6" href="#Rl" x="337.7"/><use id="k34_7" href="#Rl" x="388.8"/><use id="k34_8" href="#Gl" x="440"/></g>
<g id="row35" transform="translate(0,1830)"><use id="k35_1" href="#Rr" x="82.6"/><use id="k35_2" href="#Rr" x="133.4"/><use id="k35_3" href="#Rr" x="184.4"/><use id="k35_4" href="#Rr" x="235.6"/><use id="k35_5" href="#Rr" x="286.7"/><use id="k35_6" href="#Rr" x="337.7"/><use id="k35_7" href="#Gr" x="388.8"/><use id="k35_8" href="#Gr" x="440"/></g>
<g id="row36" transform="translate(0,1882)"><use id="k36_1" href="#Rl" x="82.6"/><use id="k36_2" href="#Rl" x="133.4"/><use id="k36_3" href="#Rl" x="184.4"/><use id="k36_4" href="#Rl" x="235.6"/><use id="k36_5" href="#Rl" x="286.7"/><use id="k36_6" href="#Gl" x="337.7"/><use id="k36_7" href="#Gl" x="388.8"/><use id="k36_8" href="#Gl" x="440"/></g>
<g id="row37" transform="translate(0,1934)"><use id="k37_1" href="#Rr" x="82.6"/><use id="k37_2" href="#Rr" x="133.4"/><use id="k37_3" href="#Rr" x="184.4"/><use id="k37_4" href="#Rr" x="235.6"/><use id="k37_5" href="#Gr" x="286.7"/><use id="k37_6" href="#Gr" x="337.7"/><use id="k37_7" href="#Gr" x="388.8"/><use id="k37_8" href="#Gr" x="440"/></g>
<g id="row38" transform="translate(0,1986)"><use id="k38_1" href="#Rl" x="82.6"/><use id="k38_2" href="#Rl" x="133.4"/><use id="k38_3" href="#Rl" x="184.4"/><use id="k38_4" href="#Gl" x="235.6"/><use id="k38_5" href="#Gl" x="286.7"/><use id="k38_6" href="#Gl" x="337.7"/><use id="k38_7" href="#Gl" x="388.8"/><use id="k38_8" href="#Gl" x="440"/></g>
<g id="row39" transform="translate(0,2038)"><use id="k39_1" href="#Rr" x="82.6"/><use id="k39_2" href="#Rr" x="133.4"/><use id="k39_3" href="#Rr" x="184.4"/><use id="k39_4" href="#Rr" x="235.6"/><use id="k39_5" href="#Gr" x="286.7"/><use id="k39_6" href="#Gr" x="337.7"/><use id="k39_7" href="#Gr" x="388.8"/><use id="k39_8" href="#Gr" x="440"/></g>
<g id="row40" transform="translate(0,2090)"><use id="k40_1" href="#Rl" x="82.6"/><use id="k40_2" href="#Rl" x="133.4"/><use id="k40_3" href="#Rl" x="184.4"/><use id="k40_4" href="#Rl" x="235.6"/><use id="k40_5" href="#Gl" x="286.7"/><use id="k40_6" href="#Gl" x="337.7"/><use id="k40_7" href="#Gl" x="388.8"/><use id="k40_8" href="#Gl" x="440"/></g>
<g id="row41" transform="translate(0,2142)"><use id="k41_1" href="#Gr" x="82.6"/><use id="k41_2" href="#Rr" x="133.4"/><use id="k41_3" href="#Rr" x="184.4"/><use id="k41_4" href="#Rr" x="235.6"/><use id="k41_5" href="#Gr" x="286.7"/><use id="k41_6" href="#Gr" x="337.7"/><use id="k41_7" href="#Gr" x="388.8"/><use id="k41_8" href="#Gr" x="440"/></g>
<g id="row42" transform="translate(0,2194)"><use id="k42_1" href="#Gl" x="82.6"/><use id="k42_2" href="#Gl" x="133.4"/><use id="k42_3" href="#Rl" x="184.4"/><use id="k42_4" href="#Rl" x="235.6"/><use id="k42_5" href="#Rl" x="286.7"/><use id="k42_6" href="#Gl" x="337.7"/><use id="k42_7" href="#Gl" x="388.8"/><use id="k42_8" href="#Gl" x="440"/></g>
<g id="row43" transform="translate(0,2246)"><use id="k43_1" href="#Gr" x="82.6"/><use id="k43_2" href="#Gr" x="133.4"/><use id="k43_3" href="#Gr" x="184.4"/><use id="k43_4" href="#Rr" x="235.6"/><use id="k43_5" href="#Rr" x="286.7"/><use id="k43_6" href="#Gr" x="337.7"/><use id="k43_7" href="#Gr" x="388.8"/><use id="k43_8" href="#Gr" x="440"/></g>
<g id="row44" transform="translate(0,2298)"><use id="k44_1" href="#Gl" x="82.6"/><use id="k44_2" href="#Gl" x="133.4"/><use id="k44_3" href="#Gl" x="184.4"/><use id="k44_4" href="#Gl" x="235.6"/><use id="k44_5" href="#Rl" x="286.7"/><use id="k44_6" href="#Gl" x="337.7"/><use id="k44_7" href="#Gl" x="388.8"/><use id="k44_8" href="#Gl" x="440"/></g>
<g id="row45" transform="translate(0,2350)"><use id="k45_1" href="#Gr" x="82.6"/><use id="k45_2" href="#Gr" x="133.4"/><use id="k45_3" href="#Gr" x="184.4"/><use id="k45_4" href="#Gr" x="235.6"/><use id="k45_5" href="#Gr" x="286.7"/><use id="k45_6" href="#Gr" x="337.7"/><use id="k45_7" href="#Gr" x="388.8"/><use id="k45_8" href="#Gr" x="440"/></g>
<g id="row46" transform="translate(0,2402)"><use id="k46_1" href="#Dl" x="82.6"/><use id="k46_2" href="#Gl" x="133.4"/><use id="k46_3" href="#Gl" x="184.4"/><use id="k46_4" href="#Gl" x="235.6"/><use id="k46_5" href="#Gl" x="286.7"/><use id="k46_6" href="#Gl" x="337.7"/><use id="k46_7" href="#Gl" x="388.8"/><use id="k46_8" href="#Dl" x="440"/></g>
<g id="row47" transform="translate(0,2454)"><use id="k47_1" href="#Dr" x="82.6"/><use id="k47_2" href="#Dr" x="133.4"/><use id="k47_3" href="#Gr" x="184.4"/><use id="k47_4" href="#Gr" x="235.6"/><use id="k47_5" href="#Gr" x="286.7"/><use id="k47_6" href="#Gr" x="337.7"/><use id="k47_7" href="#Dr" x="388.8"/><use id="k47_8" href="#Dr" x="440"/></g>
<g id="row48" transform="translate(0,2506)"><use id="k48_1" href="#Gl" x="82.6"/><use id="k48_2" href="#Dl" x="133.4"/><use id="k48_3" href="#Dl" x="184.4"/><use id="k48_4" href="#Dl" x="235.6"/><use id="k48_5" href="#Dl" x="286.7"/><use id="k48_6" href="#Dl" x="337.7"/><use id="k48_7" href="#Dl" x="388.8"/><use id="k48_8" href="#Gl" x="440"/></g>
<g id="row49" transform="translate(0,2558)"><use id="k49_1" href="#Gr" x="82.6"/><use id="k49_2" href="#Gr" x="133.4"/><use id="k49_3" href="#Dr" x="184.4"/><use id="k49_4" href="#Dr" x="235.6"/><use id="k49_5" href="#Dr" x="286.7"/><use id="k49_6" href="#Dr" x="337.7"/><use id="k49_7" href="#Gr" x="388.8"/><use id="k49_8" href="#Gr" x="440"/></g>
<g id="row50" transform="translate(0,2610)"><use id="k50_1" href="#Dl" x="82.6"/><use id="k50_2" href="#Gl" x="133.4"/><use id="k50_3" href="#Gl" x="184.4"/><use id="k50_4" href="#Gl" x="235.6"/><use id="k50_5" href="#Gl" x="286.7"/><use id="k50_6" href="#Gl" x="337.7"/><use id="k50_7" href="#Gl" x="388.8"/><use id="k50_8" href="#Dl" x="440"/></g>
<g id="row51" transform="translate(0,2662)"><use id="k51_1" href="#Dr" x="82.6"/><use id="k51_2" href="#Dr" x="133.4"/><use id="k51_3" href="#Gr" x="184.4"/><use id="k51_4" href="#Gr" x="235.6"/><use id="k51_5" href="#Gr" x="286.7"/><use id="k51_6" href="#Gr" x="337.7"/><use id="k51_7" href="#Dr" x="388.8"/><use id="k51_8" href="#Dr" x="440"/></g>
<g id="row52" transform="translate(0,2714)"><use id="k52_1" href="#Gl" x="82.6"/><use id="k52_2" href="#Dl" x="133.4"/><use id="k52_3" href="#Dl" x="184.4"/><use id="k52_4" href="#Dl" x="235.6"/><use id="k52_5" href="#Dl" x="286.7"/><use id="k52_6" href="#Dl" x="337.7"/><use id="k52_7" href="#Dl" x="388.8"/><use id="k52_8" href="#Gl" x="440"/></g>
<g id="row53" transform="translate(0,2766)"><use id="k53_1" href="#Gr" x="82.6"/><use id="k53_2" href="#Gr" x="133.4"/><use id="k53_3" href="#Gr" x="184.4"/><use id="k53_4" href="#Dr" x="235.6"/><use id="k53_5" href="#Dr" x="286.7"/><use id="k53_6" href="#Gr" x="337.7"/><use id="k53_7" href="#Gr" x="388.8"/><use id="k53_8" href="#Gr" x="440"/></g>
<g id="row54" transform="translate(0,2818)"><use id="k54_1" href="#Dl" x="82.6"/><use id="k54_2" href="#Gl" x="133.4"/><use id="k54_3" href="#Gl" x="184.4"/><use id="k54_4" href="#Gl" x="235.6"/><use id="k54_5" href="#Gl" x="286.7"/><use id="k54_6" href="#Gl" x="337.7"/><use id="k54_7" href="#Gl" x="388.8"/><use id="k54_8" href="#Dl" x="440"/></g>
<g id="row55" transform="translate(0,2870)"><use id="k55_1" href="#Dr" x="82.6"/><use id="k55_2" href="#Dr" x="133.4"/><use id="k55_3" href="#Dr" x="184.4"/><use id="k55_4" href="#Gr" x="235.6"/><use id="k55_5" href="#Gr" x="286.7"/><use id="k55_6" href="#Dr" x="337.7"/><use id="k55_7" href="#Dr" x="388.8"/><use id="k55_8" href="#Dr" x="440"/></g>
<g id="row56" transform="translate(0,2922)"><use id="k56_1" href="#Gl" x="82.6"/><use id="k56_2" href="#Dl" x="133.4"/><use id="k56_3" href="#Dl" x="184.4"/><use id="k56_4" href="#Dl" x="235.6"/><use id="k56_5" href="#Dl" x="286.7"/><use id="k56_6" href="#Dl" x="337.7"/><use id="k56_7" href="#Dl" x="388.8"/><use id="k56_8" href="#Gl" x="440"/></g>
<g id="row57" transform="translate(0,2974)"><use id="k57_1" href="#Gr" x="82.6"/><use id="k57_2" href="#Gr" x="133.4"/><use id="k57_3" href="#Dr" x="184.4"/><use id="k57_4" href="#Dr" x="235.6"/><use id="k57_5" href="#Dr" x="286.7"/><use id="k57_6" href="#Dr" x="337.7"/><use id="k57_7" href="#Gr" x="388.8"/><use id="k57_8" href="#Gr" x="440"/></g>
<g id="row58" transform="translate(0,3026)"><use id="k58_1" href="#Dl" x="82.6"/><use id="k58_2" href="#Gl" x="133.4"/><use id="k58_3" href="#Gl" x="184.4"/><use id="k58_4" href="#Gl" x="235.6"/><use id="k58_5" href="#Gl" x="286.7"/><use id="k58_6" href="#Gl" x="337.7"/><use id="k58_7" href="#Gl" x="388.8"/><use id="k58_8" href="#Dl" x="440"/></g>
<g id="row59" transform="translate(0,3078)"><use id="k59_1" href="#Dr" x="82.6"/><use id="k59_2" href="#Dr" x="133.4"/><use id="k59_3" href="#Gr" x="184.4"/><use id="k59_4" href="#Gr" x="235.6"/><use id="k59_5" href="#Gr" x="286.7"/><use id="k59_6" href="#Gr" x="337.7"/><use id="k59_7" href="#Dr" x="388.8"/><use id="k59_8" href="#Dr" x="440"/></g>
<g id="row60" transform="translate(0,3130)"><use id="k60_1" href="#Dl" x="82.6"/><use id="k60_2" href="#Dl" x="133.4"/><use id="k60_3" href="#Dl" x="184.4"/><use id="k60_4" href="#Dl" x="235.6"/><use id="k60_5" href="#Dl" x="286.7"/><use id="k60_6" href="#Dl" x="337.7"/><use id="k60_7" href="#Dl" x="388.8"/><use id="k60_8" href="#Dl" x="440"/></g>
<g id="row61" transform="translate(0,3182)"><use id="k61_1" href="#Gr" x="82.6"/><use id="k61_2" href="#Dr" x="133.4"/><use id="k61_3" href="#Dr" x="184.4"/><use id="k61_4" href="#Dr" x="235.6"/><use id="k61_5" href="#Dr" x="286.7"/><use id="k61_6" href="#Dr" x="337.7"/><use id="k61_7" href="#Dr" x="388.8"/><use id="k61_8" href="#Gr" x="440"/></g>
<g id="row62" transform="translate(0,3234)"><use id="k62_1" href="#Gl" x="82.6"/><use id="k62_2" href="#Gl" x="133.4"/><use id="k62_3" href="#Gl" x="184.4"/><use id="k62_4" href="#Dl" x="235.6"/><use id="k62_5" href="#Dl" x="286.7"/><use id="k62_6" href="#Gl" x="337.7"/><use id="k62_7" href="#Gl" x="388.8"/><use id="k62_8" href="#Gl" x="440"/></g>
<g id="row63" transform="translate(0,3286)"><use id="k63_1" href="#Dr" x="82.6"/><use id="k63_2" href="#Gr" x="133.4"/><use id="k63_3" href="#Gr" x="184.4"/><use id="k63_4" href="#Gr" x="235.6"/><use id="k63_5" href="#Gr" x="286.7"/><use id="k63_6" href="#Gr" x="337.7"/><use id="k63_7" href="#Gr" x="388.8"/><use id="k63_8" href="#Dr" x="440"/></g>
<g id="row64" transform="translate(0,3338)"><use id="k64_1" href="#Dl" x="82.6"/><use id="k64_2" href="#Dl" x="133.4"/><use id="k64_3" href="#Gl" x="184.4"/><use id="k64_4" href="#Gl" x="235.6"/><use id="k64_5" href="#Gl" x="286.7"/><use id="k64_6" href="#Gl" x="337.7"/><use id="k64_7" href="#Dl" x="388.8"/><use id="k64_8" href="#Dl" x="440"/></g>
<g id="row65" transform="translate(0,3390)"><use id="k65_1" href="#Dr" x="82.6"/><use id="k65_2" href="#Dr" x="133.4"/><use id="k65_3" href="#Dr" x="184.4"/><use id="k65_4" href="#Dr" x="235.6"/><use id="k65_5" href="#Dr" x="286.7"/><use id="k65_6" href="#Dr" x="337.7"/><use id="k65_7" href="#Dr" x="388.8"/><use id="k65_8" href="#Dr" x="440"/></g>
<g id="row66" transform="translate(0,3442)"><use id="k66_1" href="#Dl" x="82.6"/><use id="k66_2" href="#Dl" x="133.4"/><use id="k66_3" href="#Dl" x="184.4"/><use id="k66_4" href="#Dl" x="235.6"/><use id="k66_5" href="#Dl" x="286.7"/><use id="k66_6" href="#Dl" x="337.7"/><use id="k66_7" href="#Dl" x="388.8"/><use id="k66_8" href="#Dl" x="440"/></g>
<g id="row67" transform="translate(0,3494)"><use id="k67_1" href="#Gr" x="82.6"/><use id="k67_2" href="#Dr" x="133.4"/><use id="k67_3" href="#Dr" x="184.4"/><use id="k67_4" href="#Dr" x="235.6"/><use id="k67_5" href="#Dr" x="286.7"/><use id="k67_6" href="#Dr" x="337.7"/><use id="k67_7" href="#Dr" x="388.8"/><use id="k67_8" href="#Gr" x="440"/></g>
<g id="row68" transform="translate(0,3546)"><use id="k68_1" href="#Gl" x="82.6"/><use id="k68_2" href="#Gl" x="133.4"/><use id="k68_3" href="#Dl" x="184.4"/><use id="k68_4" href="#Dl" x="235.6"/><use id="k68_5" href="#Dl" x="286.7"/><use id="k68_6" href="#Dl" x="337.7"/><use id="k68_7" href="#Gl" x="388.8"/><use id="k68_8" href="#Gl" x="440"/></g>
<g id="row69" transform="translate(0,3598)"><use id="k69_1" href="#Dr" x="82.6"/><use id="k69_2" href="#Gr" x="133.4"/><use id="k69_3" href="#Gr" x="184.4"/><use id="k69_4" href="#Gr" x="235.6"/><use id="k69_5" href="#Gr" x="286.7"/><use id="k69_6" href="#Gr" x="337.7"/><use id="k69_7" href="#Gr" x="388.8"/><use id="k69_8" href="#Dr" x="440"/></g>
<g id="row70" transform="translate(0,3650)"><use id="k70_1" href="#Dl" x="82.6"/><use id="k70_2" href="#Dl" x="133.4"/><use id="k70_3" href="#Gl" x="184.4"/><use id="k70_4" href="#Gl" x="235.6"/><use id="k70_5" href="#Gl" x="286.7"/><use id="k70_6" href="#Gl" x="337.7"/><use id="k70_7" href="#Dl" x="388.8"/><use id="k70_8" href="#Dl" x="440"/></g>
<g id="row71" transform="translate(0,3702)"><use id="k71_1" href="#Dr" x="82.6"/><use id="k71_2" href="#Dr" x="133.4"/><use id="k71_3" href="#Dr" x="184.4"/><use id="k71_4" href="#Dr" x="235.6"/><use id="k71_5" href="#Dr" x="286.7"/><use id="k71_6" href="#Dr" x="337.7"/><use id="k71_7" href="#Dr" x="388.8"/><use id="k71_8" href="#Dr" x="440"/></g>
<g id="row72" transform="translate(0,3754)"><use id="k72_1" href="#Dl" x="82.6"/><use id="k72_2" href="#Dl" x="133.4"/><use id="k72_3" href="#Dl" x="184.4"/><use id="k72_4" href="#Dl" x="235.6"/><use id="k72_5" href="#Dl" x="286.7"/><use id="k72_6" href="#Dl" x="337.7"/><use id="k72_7" href="#Dl" x="388.8"/><use id="k72_8" href="#Dl" x="440"/></g>
</g>
<text class="wm" x="261" y="1913" textLength="151" lengthAdjust="spacingAndGlyphs">BRACELETBOOK.COM</text>
</svg>
